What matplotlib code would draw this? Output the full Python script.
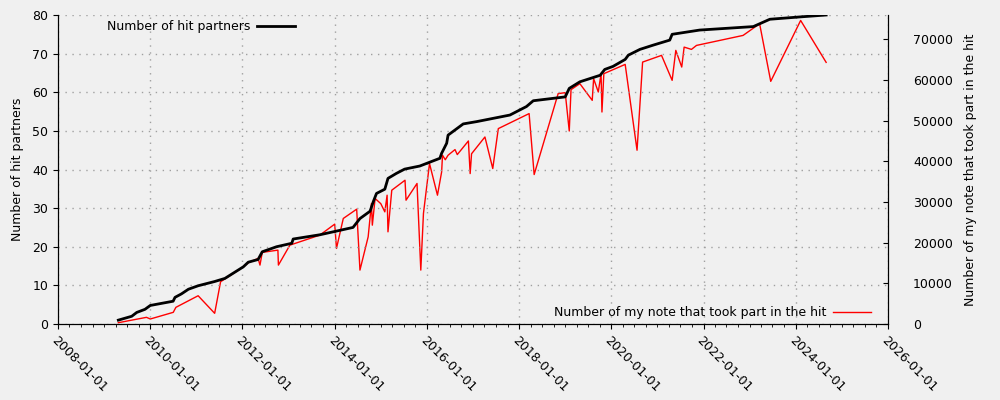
import matplotlib
matplotlib.use("Agg")
import matplotlib.pyplot as plt
import matplotlib.dates as mdates
import pandas as pd

# hit partners (cumulative), left axis
hit_dates = [
    "2009-04-23", "2009-08-07", "2009-09-16", "2009-11-20", "2010-01-01",
    "2010-07-01", "2010-07-16", "2010-09-05", "2010-10-30", "2011-01-15",
    "2011-05-26", "2011-08-15", "2012-01-08", "2012-02-16", "2012-05-04",
    "2012-06-06", "2012-09-27", "2013-01-26", "2013-02-06", "2013-09-05",
    "2014-05-26", "2014-07-20", "2014-10-08", "2014-11-03", "2014-11-28",
    "2015-02-02", "2015-02-27", "2015-05-05", "2015-07-09", "2015-11-06",
    "2016-04-13", "2016-04-27", "2016-06-06", "2016-06-17", "2016-10-15",
    "2017-01-30", "2017-10-20", "2018-02-28", "2018-04-23", "2019-01-01",
    "2019-02-02", "2019-04-27", "2019-10-05", "2019-11-10", "2020-01-15",
    "2020-04-20", "2020-05-15", "2020-08-15", "2020-11-28", "2021-04-08",
    "2021-04-27", "2021-12-01", "2023-01-30", "2023-06-10", "2024-02-02",
    "2024-08-29",
]
hit_partners = [
    1, 2, 3, 3.8, 4.8,
    5.9, 6.9, 7.8, 9, 9.9,
    11, 11.8, 14.8, 16, 16.7,
    18.7, 20, 20.9, 22, 23.1,
    25, 27.3, 29.2, 31.7, 33.8,
    34.9, 37.7, 39, 40.1, 40.9,
    42.9, 44.2, 46.8, 48.9, 51.8,
    52.4, 54.1, 56.3, 57.8, 58.8,
    61, 62.7, 64.4, 65.9, 66.7,
    68.5, 69.6, 71.1, 72.2, 73.5,
    75, 76.1, 77, 78.9, 79.5,
    80,
]

# notes that took part in the hit, right axis
note_dates = [
    "2009-04-23", "2009-12-02", "2010-01-01", "2010-07-02", "2010-07-23",
    "2011-01-15", "2011-05-26", "2011-07-12", "2012-01-08", "2012-02-16",
    "2012-05-04", "2012-05-19", "2012-06-06", "2012-10-08", "2012-10-12",
    "2013-01-11", "2013-09-05", "2014-01-01", "2014-01-15", "2014-03-10",
    "2014-06-24", "2014-07-20", "2014-09-23", "2014-10-19", "2014-10-26",
    "2014-11-17", "2015-01-01", "2015-02-02", "2015-02-20", "2015-02-27",
    "2015-03-29", "2015-07-12", "2015-07-20", "2015-10-15", "2015-11-14",
    "2015-12-05", "2016-01-22", "2016-03-25", "2016-04-27", "2016-05-04",
    "2016-05-26", "2016-06-17", "2016-08-11", "2016-08-29", "2016-11-25",
    "2016-12-09", "2016-12-20", "2017-04-05", "2017-06-06", "2017-07-20",
    "2018-03-21", "2018-04-30", "2018-11-06", "2019-01-01", "2019-02-02",
    "2019-02-16", "2019-04-27", "2019-08-03", "2019-08-14", "2019-09-20",
    "2019-10-12", "2019-10-19", "2019-11-03", "2020-04-20", "2020-07-23",
    "2020-09-05", "2021-02-02", "2021-04-27", "2021-05-26", "2021-07-12",
    "2021-07-31", "2021-09-27", "2021-11-06", "2022-11-10", "2023-03-21",
    "2023-06-17", "2024-02-09", "2024-08-29",
]
note_counts = [
    320, 1640, 1230, 2870, 4100,
    6950, 2630, 10390, 14070, 15060,
    16130, 14490, 17610, 18170, 14490,
    19400, 21860, 24560, 18590, 25960,
    28240, 13260, 21440, 29640, 24310,
    30870, 29600, 27580, 31680, 22670,
    32910, 35360, 30450, 34560, 13260,
    27190, 39470, 31680, 37400, 41510,
    40400, 41510, 42900, 41670, 45020,
    37000, 41870, 46000, 38240, 48060,
    51750, 36760, 56660, 56900, 47470,
    57640, 59110, 55010, 60340, 57060,
    61570, 52140, 61570, 63850, 42740,
    64420, 66070, 59930, 67300, 63200,
    68100, 67540, 68520, 70980, 73850,
    59680, 74660, 64350,
]

bg = "#f0f0f0"
plt.rcParams["font.family"] = ["DejaVu Sans"]
plt.rcParams["font.size"] = 9

fig = plt.figure(figsize=(10, 4), dpi=100, facecolor=bg)
ax = fig.add_axes([0.058, 0.19, 0.83, 0.7725], facecolor=bg)
ax2 = ax.twinx()

ax.plot(pd.to_datetime(hit_dates), hit_partners, color="black", lw=2,
        label="Number of hit partners", zorder=3)
ax2.plot(pd.to_datetime(note_dates), note_counts, color="red", lw=1,
         label="Number of my note that took part in the hit")
ax.set_zorder(ax2.get_zorder() + 1)
ax.patch.set_visible(False)
ax2.patch.set_facecolor(bg)

ax.set_xlim(pd.Timestamp("2008-01-01"), pd.Timestamp("2026-01-01"))
ax.set_ylim(0, 80)
ax2.set_ylim(0, 76000)

ax.xaxis.set_major_locator(mdates.YearLocator(2))
ax.xaxis.set_major_formatter(mdates.DateFormatter("%Y-%m-%d"))
ax.xaxis.set_minor_locator(mdates.MonthLocator(bymonth=[1, 4, 7, 10]))
for lab in ax.get_xticklabels():
    lab.set_rotation(-45)
    lab.set_ha("left")
    lab.set_rotation_mode("anchor")

ax.grid(True, which="major", color="#a0a0a0", linestyle=(0, (1, 4)), lw=1)
ax.set_ylabel("Number of hit partners", labelpad=6)
ax2.set_ylabel("Number of my note that took part in the hit", labelpad=8)
ax2.tick_params(axis="y", direction="in", pad=18)

for a in (ax, ax2):
    a.spines["top"].set_visible(False)

ax.legend(loc="upper left", bbox_to_anchor=(0.045, 1.02), frameon=False,
          markerfirst=False, handlelength=3.0, handletextpad=0.6)
ax2.legend(loc="lower right", bbox_to_anchor=(0.993, -0.02), frameon=False,
           markerfirst=False, handlelength=3.0, handletextpad=0.6)

fig.savefig("out.png", facecolor=bg)
